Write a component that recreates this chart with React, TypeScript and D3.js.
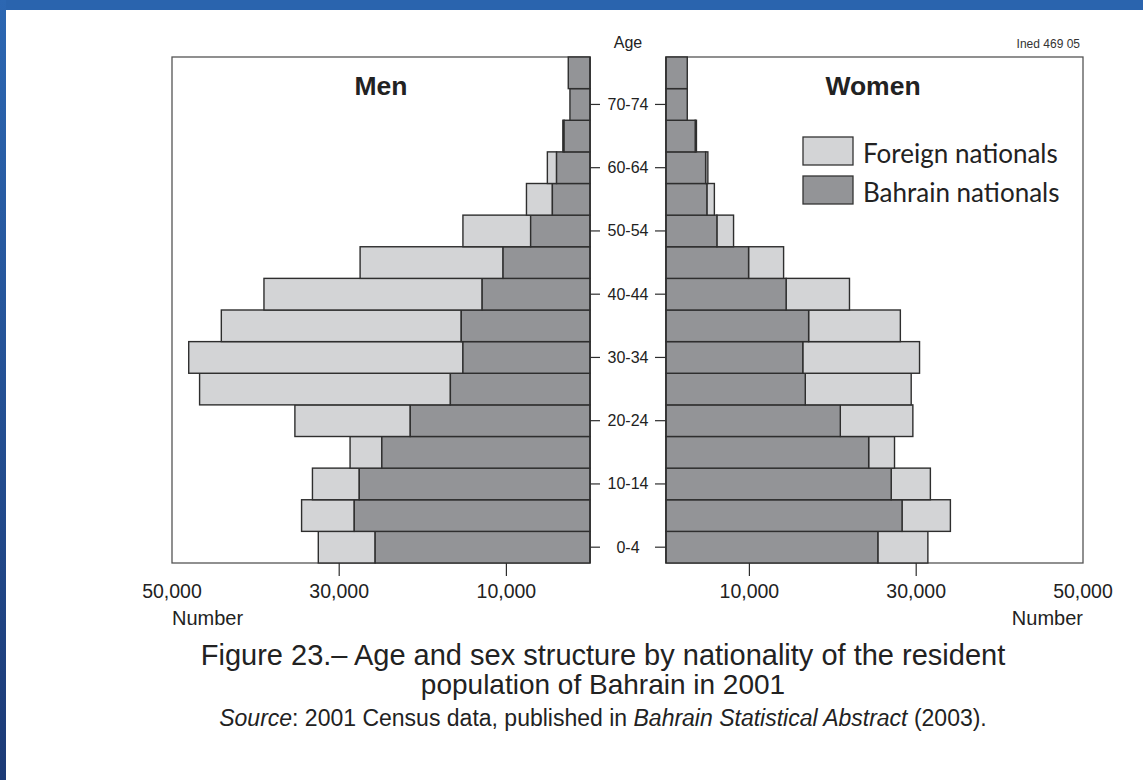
import { useEffect, useRef } from 'react'
import * as d3 from 'd3'

// age groups, bottom to top
const AGES = ['0-4', '5-9', '10-14', '15-19', '20-24', '25-29', '30-34', '35-39', '40-44', '45-49', '50-54', '55-59', '60-64', '65-69', '70-74', '75+']
const AGE_TICKS = ['0-4', '10-14', '20-24', '30-34', '40-44', '50-54', '60-64', '70-74']

const MEN_BAHRAIN = [25700, 28200, 27600, 24900, 21500, 16700, 15200, 15400, 12900, 10400, 7100, 4500, 4000, 3100, 2400, 2600]
const MEN_FOREIGN = [6800, 6300, 5600, 3800, 13800, 30000, 32800, 28700, 26100, 17100, 8100, 3100, 1100, 150, 0, 0]
const WOMEN_BAHRAIN = [25400, 28300, 27000, 24300, 20900, 16700, 16400, 17100, 14400, 9900, 6100, 4900, 4750, 3500, 2550, 2550]
const WOMEN_FOREIGN = [6000, 5800, 4700, 3100, 8700, 12700, 14000, 11000, 7600, 4200, 2000, 900, 270, 150, 0, 0]

const X_TICKS = [10000, 30000, 50000]

const LIGHT = '#d3d4d6'
const DARK = '#939497'
const EDGE = '#2e2e2e'
const NARROW = "'Liberation Sans Narrow', 'Arial Narrow', 'Liberation Sans', sans-serif"
const SANS = "'Liberation Sans', Arial, sans-serif"

export default function App() {
  const svgRef = useRef<SVGSVGElement>(null)

  useEffect(() => {
    if (!svgRef.current) return
    const W = 1143, H = 780
    const svg = d3.select(svgRef.current).attr('viewBox', `0 0 ${W} ${H}`)
    svg.selectAll('*').remove()

    svg.append('rect').attr('width', W).attr('height', H).attr('fill', '#fff')

    // blue slide frame (top + left)
    const defs = svg.append('defs')
    const lg = defs.append('linearGradient').attr('id', 'frame').attr('x1', 0).attr('y1', 0).attr('x2', 0).attr('y2', 1)
    lg.append('stop').attr('offset', '0%').attr('stop-color', '#2c67b2')
    lg.append('stop').attr('offset', '100%').attr('stop-color', '#1c3a76')
    svg.append('rect').attr('x', 0).attr('y', 0).attr('width', W).attr('height', 10).attr('fill', '#2a64ae')
    svg.append('rect').attr('x', 0).attr('y', 0).attr('width', 6).attr('height', H).attr('fill', 'url(#frame)')

    const top = 57, bottom = 563
    const menL = 172, menR = 590
    const womL = 666, womR = 1083

    const y = d3.scaleBand<string>().domain([...AGES].reverse()).range([top, bottom]).padding(0)
    const xm = d3.scaleLinear().domain([0, 50000]).range([menR, menL])
    const xw = d3.scaleLinear().domain([0, 50000]).range([womL, womR])

    // panel frames
    svg.append('rect').attr('x', menL).attr('y', top).attr('width', menR - menL).attr('height', bottom - top)
      .attr('fill', 'none').attr('stroke', '#555').attr('stroke-width', 1.3)
    svg.append('rect').attr('x', womL).attr('y', top).attr('width', womR - womL).attr('height', bottom - top)
      .attr('fill', 'none').attr('stroke', '#555').attr('stroke-width', 1.3)

    const bars = svg.append('g').attr('stroke', EDGE).attr('stroke-width', 1.4)
    AGES.forEach((a, i) => {
      const yy = y(a)!, h = y.bandwidth()
      const mb = MEN_BAHRAIN[i], mf = MEN_FOREIGN[i]
      const wb = WOMEN_BAHRAIN[i], wf = WOMEN_FOREIGN[i]
      if (mf > 0) bars.append('rect').attr('x', xm(mb + mf)).attr('y', yy).attr('width', xm(mb) - xm(mb + mf)).attr('height', h).attr('fill', LIGHT)
      bars.append('rect').attr('x', xm(mb)).attr('y', yy).attr('width', xm(0) - xm(mb)).attr('height', h).attr('fill', DARK)
      if (wf > 0) bars.append('rect').attr('x', xw(wb)).attr('y', yy).attr('width', xw(wb + wf) - xw(wb)).attr('height', h).attr('fill', LIGHT)
      bars.append('rect').attr('x', xw(0)).attr('y', yy).attr('width', xw(wb) - xw(0)).attr('height', h).attr('fill', DARK)
    })

    // central age axis
    svg.append('line').attr('x1', menR).attr('x2', menR).attr('y1', top).attr('y2', bottom).attr('stroke', EDGE).attr('stroke-width', 1.4)
    svg.append('line').attr('x1', womL).attr('x2', womL).attr('y1', top).attr('y2', bottom).attr('stroke', EDGE).attr('stroke-width', 1.4)
    const midX = (menR + womL) / 2
    AGE_TICKS.forEach(a => {
      const cy = y(a)! + y.bandwidth() / 2
      svg.append('line').attr('x1', menR).attr('x2', menR + 10).attr('y1', cy).attr('y2', cy).attr('stroke', EDGE).attr('stroke-width', 1.2)
      svg.append('line').attr('x1', womL - 11).attr('x2', womL).attr('y1', cy).attr('y2', cy).attr('stroke', EDGE).attr('stroke-width', 1.2)
      svg.append('text').attr('x', midX).attr('y', cy + 5.5).attr('text-anchor', 'middle')
        .attr('font-family', NARROW).attr('font-size', 16).attr('fill', '#222').text(a)
    })
    svg.append('text').attr('x', midX).attr('y', 48).attr('text-anchor', 'middle')
      .attr('font-family', NARROW).attr('font-size', 16).attr('fill', '#222').text('Age')
    svg.append('text').attr('x', womR - 3).attr('y', 48).attr('text-anchor', 'end')
      .attr('font-family', NARROW).attr('font-size', 12).attr('fill', '#333').text('Ined 469 05')

    // x axes
    const fmt = d3.format(',')
    X_TICKS.forEach(v => {
      if (v < 50000) {
        svg.append('line').attr('x1', xm(v)).attr('x2', xm(v)).attr('y1', bottom).attr('y2', bottom + 13).attr('stroke', EDGE).attr('stroke-width', 1.2)
        svg.append('line').attr('x1', xw(v)).attr('x2', xw(v)).attr('y1', bottom).attr('y2', bottom + 13).attr('stroke', EDGE).attr('stroke-width', 1.2)
      }
      svg.append('text').attr('x', xm(v)).attr('y', 598).attr('text-anchor', 'middle')
        .attr('font-family', SANS).attr('font-size', 19.5).attr('fill', '#222').text(fmt(v))
      svg.append('text').attr('x', xw(v)).attr('y', 598).attr('text-anchor', 'middle')
        .attr('font-family', SANS).attr('font-size', 19.5).attr('fill', '#222').text(fmt(v))
    })
    svg.append('text').attr('x', menL).attr('y', 625).attr('font-family', SANS).attr('font-size', 20).attr('fill', '#222').text('Number')
    svg.append('text').attr('x', womR).attr('y', 625).attr('text-anchor', 'end').attr('font-family', SANS).attr('font-size', 20).attr('fill', '#222').text('Number')

    // panel titles
    svg.append('text').attr('x', 381).attr('y', 95).attr('text-anchor', 'middle')
      .attr('font-family', SANS).attr('font-weight', 'bold').attr('font-size', 26.5).attr('fill', '#222').text('Men')
    svg.append('text').attr('x', 873).attr('y', 95).attr('text-anchor', 'middle')
      .attr('font-family', SANS).attr('font-weight', 'bold').attr('font-size', 26.5).attr('fill', '#222').text('Women')

    // legend
    const legend = [{ label: 'Foreign nationals', fill: LIGHT }, { label: 'Bahrain nationals', fill: DARK }]
    legend.forEach((d, i) => {
      const ly = 137 + i * 39
      svg.append('rect').attr('x', 803).attr('y', ly).attr('width', 50).attr('height', 28)
        .attr('fill', d.fill).attr('stroke', '#333').attr('stroke-width', 1.3)
      svg.append('text').attr('x', 863).attr('y', ly + 26).attr('font-family', "Lato, 'Open Sans', sans-serif")
        .attr('font-size', 26).attr('fill', '#222').text(d.label)
    })

    // caption
    svg.append('text').attr('x', 603).attr('y', 665).attr('text-anchor', 'middle')
      .attr('font-family', SANS).attr('font-size', 29).attr('fill', '#222')
      .text('Figure 23.\u2013 Age and sex structure by nationality of the resident')
    svg.append('text').attr('x', 603).attr('y', 694).attr('text-anchor', 'middle')
      .attr('font-family', SANS).attr('font-size', 28).attr('fill', '#222')
      .text('population of Bahrain in 2001')
    const src = svg.append('text').attr('x', 603).attr('y', 726).attr('text-anchor', 'middle')
      .attr('font-family', SANS).attr('font-size', 23).attr('fill', '#222')
    src.append('tspan').attr('font-style', 'italic').text('Source')
    src.append('tspan').text(': 2001 Census data, published in ')
    src.append('tspan').attr('font-style', 'italic').text('Bahrain Statistical Abstract')
    src.append('tspan').text(' (2003).')

    return () => { svg.selectAll('*').remove() }
  }, [])

  return (
    <svg ref={svgRef} width={1143} height={780} style={{ position: 'absolute', left: 0, top: 0, display: 'block' }} />
  )
}
